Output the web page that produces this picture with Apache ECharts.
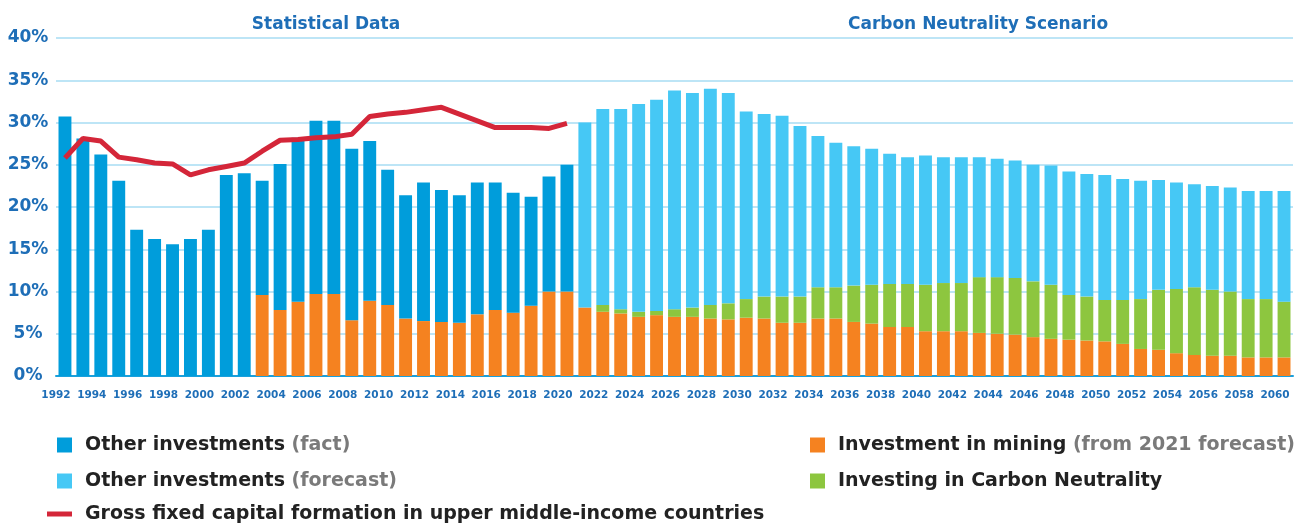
<!DOCTYPE html>
<html>
<head>
<meta charset="utf-8">
<script src="https://cdn.jsdelivr.net/npm/echarts@6/dist/echarts.min.js"></script>
<style>
  html, body { margin: 0; padding: 0; background: #fff; }
  #chart { width: 1296px; height: 525px; }
</style>
</head>
<body>
<div id="chart"></div>
<script>
// years 1992..2060
var years = [];
for (var y = 1992; y <= 2060; y++) years.push(String(y));

// bar tops, in %
// other investments, fact (1992-2020) - full bar height
var totalFact = [30.7, 28.1, 26.2, 23.1, 17.3, 16.2, 15.6, 16.2, 17.3, 23.8,
  24.0, 23.1, 25.1, 28.2, 30.2, 30.2, 26.9, 27.8, 24.4, 21.4,
  22.9, 22.0, 21.4, 22.9, 22.9, 21.7, 21.2, 23.6, 25.0];
// full bar height, forecast (2021-2060)
var totalForecast = [30.0, 31.6, 31.6, 32.2, 32.7, 33.8, 33.5, 34.0, 33.5, 31.3,
  31.0, 30.8, 29.6, 28.4, 27.6, 27.2, 26.9, 26.3, 25.9, 26.1,
  25.9, 25.9, 25.9, 25.7, 25.5, 25.0, 24.9, 24.2, 23.9, 23.8,
  23.3, 23.1, 23.2, 22.9, 22.7, 22.5, 22.3, 21.9, 21.9, 21.9];
// investment in mining (orange), 2003-2060
var mining = [9.6, 7.8, 8.8, 9.7, 9.7, 6.6, 8.9, 8.4, 6.8, 6.5,
  6.4, 6.3, 7.3, 7.8, 7.5, 8.3, 10.0, 10.0,
  8.1, 7.6, 7.4, 7.0, 7.2, 7.0, 7.0, 6.8, 6.7, 6.9,
  6.8, 6.3, 6.3, 6.8, 6.8, 6.4, 6.2, 5.8, 5.8, 5.3,
  5.3, 5.3, 5.1, 5.0, 4.9, 4.6, 4.4, 4.3, 4.2, 4.1,
  3.8, 3.2, 3.1, 2.7, 2.5, 2.4, 2.4, 2.2, 2.2, 2.2];
// top of green part (mining + carbon neutrality), 2021-2060
var carbonTop = [8.1, 8.4, 7.9, 7.6, 7.7, 7.9, 8.1, 8.4, 8.6, 9.1,
  9.4, 9.4, 9.4, 10.5, 10.5, 10.7, 10.8, 10.9, 10.9, 10.8,
  11.0, 11.0, 11.7, 11.7, 11.6, 11.2, 10.8, 9.6, 9.4, 9.0,
  9.0, 9.1, 10.2, 10.3, 10.5, 10.2, 10.0, 9.1, 9.1, 8.8];
// gross fixed capital formation, 1992-2020
var gfcf = [25.8, 28.1, 27.8, 25.9, 25.6, 25.2, 25.1, 23.8, 24.4, 24.8,
  25.2, 26.6, 27.9, 28.0, 28.2, 28.3, 28.6, 30.7, 31.0, 31.2,
  31.5, 31.8, 31.0, 30.2, 29.4, 29.4, 29.4, 29.3, 29.9];
var yTicks = [0, 5, 10, 15, 20, 25, 30, 35, 40];

var nFact = totalFact.length;           // 29 (1992-2020)
var miningStart = 11;                   // 2003
var miningData = [], carbonData = [], factData = [], forecastData = [], lineData = [];
for (var i = 0; i < years.length; i++) {
  var m = i >= miningStart ? mining[i - miningStart] : 0;
  miningData.push(m);
  if (i < nFact) {
    carbonData.push(0);
    factData.push(+(totalFact[i] - m).toFixed(2));
    forecastData.push(0);
    lineData.push(gfcf[i]);
  } else {
    var k = i - nFact;
    carbonData.push(+(carbonTop[k] - m).toFixed(2));
    factData.push(0);
    forecastData.push(+(totalForecast[k] - carbonTop[k]).toFixed(2));
    lineData.push('-');
  }
}

var blue = '#1e6eb7';
var font = 'DejaVu Sans';
var names = ['Other investments (fact)', 'Other investments (forecast)',
  'Investment in mining (from 2021 forecast)', 'Investing in Carbon Neutrality',
  'Gross fixed capital formation in upper middle-income countries'];

function legendFmt(name) {
  var p = name.indexOf(' (');
  if (p < 0) return '{a|' + name + '}';
  return '{a|' + name.slice(0, p) + '}{b|' + name.slice(p) + '}';
}
var legendText = {
  fontFamily: font, fontSize: 19, fontWeight: 'bold', color: '#222', lineHeight: 24,
  padding: [0, 0, 0, 8],
  rich: {
    a: { fontFamily: font, fontSize: 19, fontWeight: 'bold', color: '#222' },
    b: { fontFamily: font, fontSize: 19, fontWeight: 'bold', color: '#7a7a7a' }
  }
};
function mkLegend(name, left, top, w, h) {
  return {
    data: [{ name: name, icon: 'rect' }], left: left, top: top, padding: 0,
    itemWidth: w, itemHeight: h, formatter: legendFmt, textStyle: legendText,
    selectedMode: false
  };
}

var myChart = echarts.init(document.getElementById('chart'));
var option = {
  animation: false,
  title: [
    { text: 'Statistical Data', left: 321, top: 11, textAlign: 'center',
      textStyle: { fontFamily: font, fontSize: 17, fontWeight: 'bold', color: blue } },
    { text: 'Carbon Neutrality Scenario', left: 973, top: 11, textAlign: 'center',
      textStyle: { fontFamily: font, fontSize: 17, fontWeight: 'bold', color: blue } }
  ],
  legend: [
    mkLegend(names[0], 57, 433, 15, 15),
    mkLegend(names[1], 57, 469, 15, 15),
    mkLegend(names[4], 47, 502, 25, 5),
    mkLegend(names[2], 810, 433, 15, 15),
    mkLegend(names[3], 810, 469, 15, 15)
  ],
  grid: { left: 56, right: 3, top: 38, bottom: 149 },
  xAxis: {
    type: 'category',
    data: years,
    axisLine: { lineStyle: { color: '#1aa0dc', width: 2 } },
    axisTick: { interval: 3, length: 6, lineStyle: { color: '#1aa0dc', width: 2 } },
    axisLabel: {
      interval: 1, margin: 14, padding: [0, 18, 0, 0],
      fontFamily: font, fontSize: 10.5, fontWeight: 'bold', color: blue
    }
  },
  yAxis: {
    type: 'value', min: yTicks[0], max: yTicks[yTicks.length - 1], interval: 5,
    axisLine: { show: false }, axisTick: { show: false },
    axisLabel: {
      formatter: '{value}%', align: 'center', margin: 28,
      fontFamily: font, fontSize: 17, fontWeight: 'bold', color: blue
    },
    splitLine: { lineStyle: { color: '#bde5f6', width: 2 } }
  },
  series: [
    { name: names[2], type: 'bar', stack: 'a', barWidth: '72%', data: miningData,
      itemStyle: { color: '#f58220' } },
    { name: names[3], type: 'bar', stack: 'a', data: carbonData,
      itemStyle: { color: '#8dc63f' } },
    { name: names[0], type: 'bar', stack: 'a', data: factData,
      itemStyle: { color: '#009ddb' } },
    { name: names[1], type: 'bar', stack: 'a', data: forecastData,
      itemStyle: { color: '#46c8f5' } },
    { name: names[4], type: 'line', data: lineData, symbol: 'none', z: 5,
      color: '#d42639', lineStyle: { color: '#d42639', width: 5 } }
  ]
};
myChart.setOption(option);
</script>
</body>
</html>
